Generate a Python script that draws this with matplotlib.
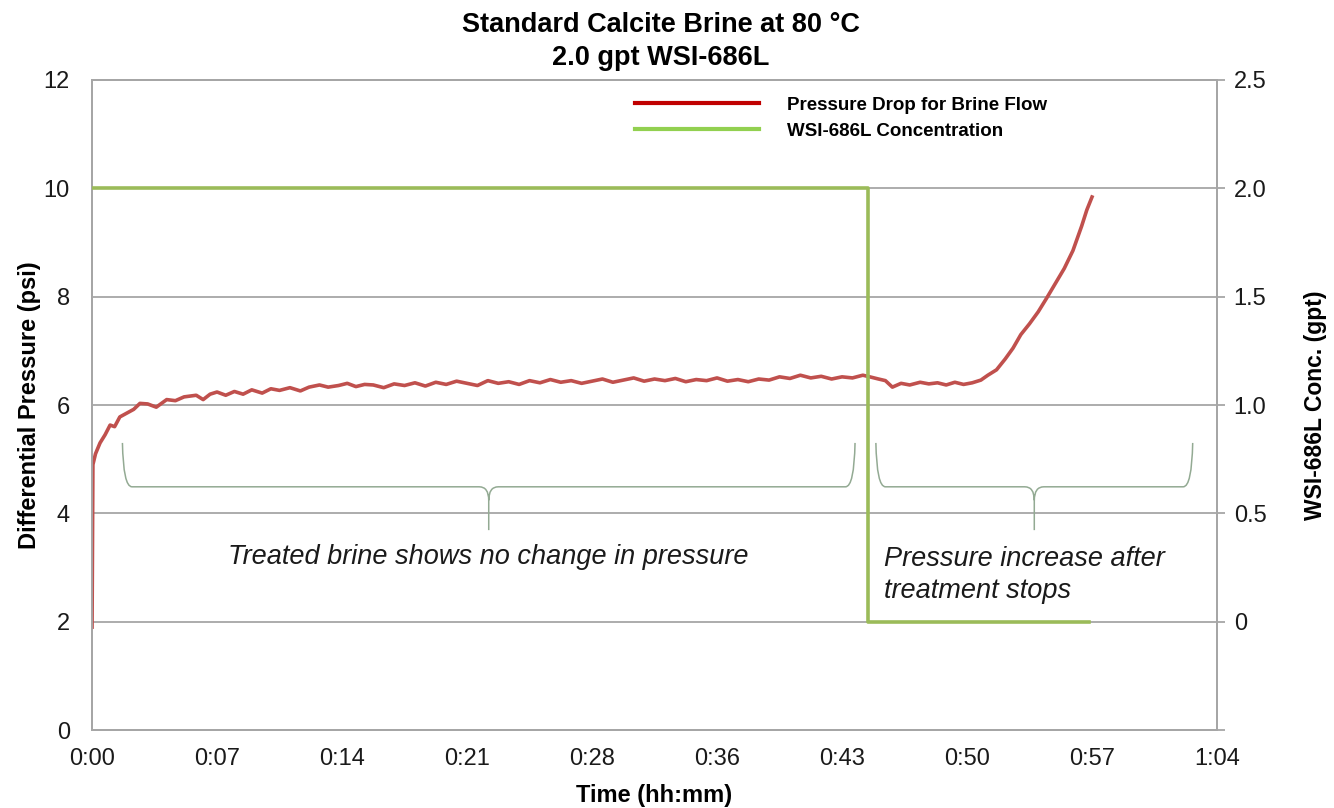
import matplotlib.pyplot as plt
from matplotlib.lines import Line2D
from matplotlib.path import Path
from matplotlib.patches import PathPatch

plt.rcParams['font.family'] = ['Liberation Sans', 'DejaVu Sans']

# time in minutes
t_press = [0, 0.05, 0.2, 0.46, 0.75, 1.04, 1.3, 1.6, 2.0, 2.4, 2.76, 3.2, 3.7, 4.3, 4.8, 5.3,
           6.0, 6.4, 6.8, 7.2, 7.7, 8.2, 8.7, 9.2, 9.8, 10.3, 10.8, 11.4, 12.0, 12.5, 13.1,
           13.6, 14.2, 14.7, 15.2, 15.7, 16.2, 16.8, 17.4, 18.0, 18.6, 19.2, 19.8, 20.4,
           21.0, 21.6, 22.2, 22.8, 23.4, 24.0, 24.6, 25.2, 25.8, 26.4, 27.0, 27.6, 28.2,
           28.8, 29.4, 30.0, 30.6, 31.2, 31.8, 32.4, 33.0, 33.6, 34.2, 34.8, 35.4, 36.0,
           36.6, 37.2, 37.8, 38.4, 39.0, 39.6, 40.2, 40.8, 41.4, 42.0, 42.6, 43.2, 43.8,
           44.4, 44.8, 45.3, 45.7, 46.1, 46.6, 47.1, 47.7, 48.2, 48.7, 49.2, 49.7, 50.2,
           50.7, 51.2, 51.6, 52.1, 52.6, 53.05, 53.5, 54.0, 54.5, 55.0, 55.5, 56.0, 56.5,
           57.0, 57.3, 57.6]
pressure = [1.9, 4.9, 5.1, 5.3, 5.45, 5.63, 5.6, 5.78, 5.85, 5.92, 6.03, 6.02, 5.96, 6.1,
            6.08, 6.15, 6.18, 6.1, 6.2, 6.24, 6.18, 6.25, 6.2, 6.28, 6.22, 6.3, 6.27, 6.32,
            6.26, 6.33, 6.37, 6.33, 6.36, 6.4, 6.34, 6.38, 6.37, 6.32, 6.39, 6.36, 6.41,
            6.35, 6.42, 6.38, 6.44, 6.4, 6.36, 6.45, 6.4, 6.43, 6.38, 6.45, 6.41, 6.47,
            6.42, 6.45, 6.4, 6.44, 6.48, 6.42, 6.46, 6.5, 6.44, 6.48, 6.45, 6.49, 6.43,
            6.47, 6.45, 6.5, 6.44, 6.47, 6.43, 6.48, 6.46, 6.52, 6.49, 6.55, 6.5, 6.53,
            6.48, 6.52, 6.5, 6.55, 6.52, 6.48, 6.45, 6.33, 6.4, 6.37, 6.42, 6.39, 6.41,
            6.37, 6.42, 6.38, 6.41, 6.46, 6.55, 6.65, 6.85, 7.05, 7.3, 7.5, 7.72, 7.98,
            8.25, 8.52, 8.85, 9.3, 9.6, 9.84]

t_conc = [0, 44.7, 44.7, 57.4]
conc = [2.0, 2.0, 0.0, 0.0]

x_ticks = [0, 7.2, 14.4, 21.6, 28.8, 36.0, 43.2, 50.4, 57.6, 64.8]
x_labels = ['0:00', '0:07', '0:14', '0:21', '0:28', '0:36', '0:43', '0:50', '0:57', '1:04']
y_ticks = [0, 2, 4, 6, 8, 10, 12]
y2_ticks = [-0.5, 0, 0.5, 1.0, 1.5, 2.0, 2.5]
y2_labels = ['', '0', '0.5', '1.0', '1.5', '2.0', '2.5']

# braces: (start, end) in minutes
braces = [(1.75, 43.95), (45.15, 63.4)]
brace_note_1 = 'Treated brine shows no change in pressure'
brace_note_2 = 'Pressure increase after\ntreatment stops'

RED = '#c0504d'
GREEN = '#9bbb59'
GRID = '#a6a6a6'
BRACE = '#93aa93'


def brace_path(x0, x1, ytop, ymid, ytip, dx=0.55):
    xm = (x0 + x1) / 2
    verts = [(x0, ytop), (x0 + 0.05, ymid), (x0 + dx, ymid),
             (xm - dx, ymid), (xm, ymid), (xm, ymid - 0.25), (xm, ytip),
             (xm, ymid - 0.25), (xm, ymid), (xm + dx, ymid),
             (x1 - dx, ymid), (x1 - 0.05, ymid), (x1, ytop)]
    codes = [Path.MOVETO, Path.CURVE3, Path.CURVE3,
             Path.LINETO, Path.CURVE3, Path.CURVE3, Path.LINETO,
             Path.MOVETO, Path.CURVE3, Path.CURVE3,
             Path.LINETO, Path.CURVE3, Path.CURVE3]
    return Path(verts, codes)


fig = plt.figure(figsize=(13.34, 8.08), dpi=100)
ax = fig.add_axes([0.069, 0.0965, 0.8433, 0.8045])
ax2 = ax.twinx()

ax.plot(t_press, pressure, color=RED, lw=2.6, zorder=3)
ax2.plot(t_conc, conc, color=GREEN, lw=2.6, zorder=3)

ax.set_xlim(0, 64.8)
ax.set_ylim(0, 12)
ax2.set_ylim(-0.5, 2.5)

ax.set_xticks(x_ticks)
ax.set_xticklabels(x_labels)
ax.set_yticks(y_ticks)
ax2.set_yticks(y2_ticks)
ax2.set_yticklabels(y2_labels)

ax.grid(axis='y', color=GRID, lw=1.3)
ax.set_axisbelow(True)
for a in (ax, ax2):
    for s in a.spines.values():
        s.set_color(GRID)
        s.set_linewidth(1.3)

ax.tick_params(axis='both', length=0, labelsize=17, colors='#1a1a1a')
ax.tick_params(axis='y', pad=16)
ax.tick_params(axis='x', pad=13)
ax2.tick_params(axis='y', length=6, width=1.3, color=GRID, labelsize=17,
                labelcolor='#1a1a1a', pad=6)

ax.set_xlabel('Time (hh:mm)', fontsize=17, fontweight='bold', labelpad=10)
ax.set_ylabel('Differential Pressure (psi)', fontsize=17, fontweight='bold', labelpad=2)
ax2.set_ylabel('WSI-686L Conc. (gpt)', fontsize=16.5, fontweight='bold', labelpad=27,
               rotation=90)

fig.text(0.4955, 0.985, 'Standard Calcite Brine at 80 \u00b0C\n2.0 gpt WSI-686L',
         ha='center', va='top', fontsize=19.5, fontweight='bold', linespacing=1.35)

for x0, x1 in braces:
    ax.add_patch(PathPatch(brace_path(x0, x1, 5.3, 4.49, 3.69), fill=False,
                           edgecolor=BRACE, lw=1.1, zorder=2))

ax.text(sum(braces[0]) / 2, 3.19, brace_note_1, ha='center', va='center',
        fontsize=19.5, style='italic', color='#1a1a1a')
ax.text(45.6, 2.87, brace_note_2, ha='left', va='center', fontsize=19.5,
        style='italic', color='#1a1a1a', linespacing=1.3)

handles = [Line2D([], [], color='#c00000', lw=3),
           Line2D([], [], color='#92d050', lw=3)]
ax2.legend(handles, ['Pressure Drop for Brine Flow', 'WSI-686L Concentration'],
           loc='upper left', bbox_to_anchor=(0.468, 1.0), frameon=False,
           handlelength=6.6, handletextpad=1.5, labelspacing=0.45,
           prop={'size': 13.5, 'weight': 'bold'})

fig.savefig('out.png', dpi=100)
